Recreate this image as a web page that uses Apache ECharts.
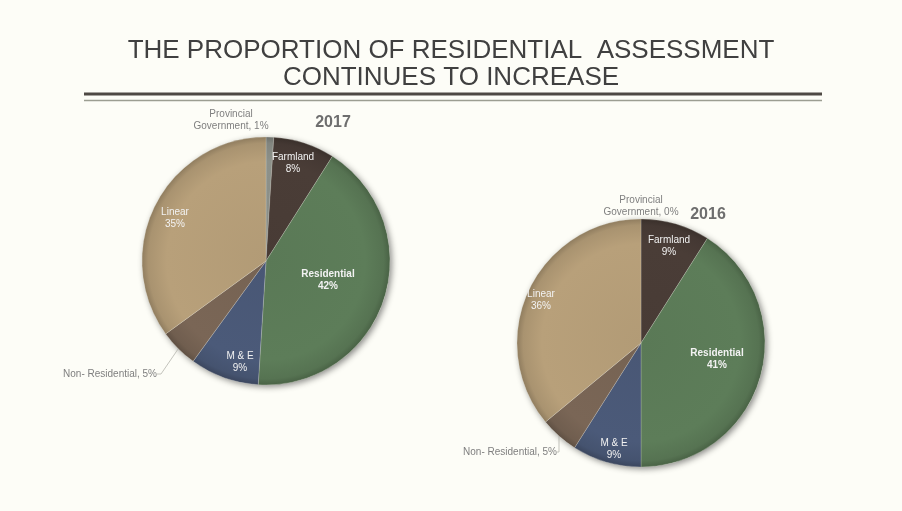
<!DOCTYPE html>
<html>
<head>
<meta charset="utf-8">
<script src="https://cdn.jsdelivr.net/npm/echarts@6/dist/echarts.min.js"></script>
<style>
  html, body { margin: 0; padding: 0; background: #fdfdf7; }
  #chart { width: 902px; height: 511px; }
</style>
</head>
<body>
<div id="chart"></div>
<script>
// Assessment categories, clockwise from 12 o'clock
const categories = ['Provincial Government', 'Farmland', 'Residential', 'M & E', 'Non- Residential', 'Linear'];
const values2017 = [1, 8, 42, 9, 5, 35];
const values2016 = [0, 9, 41, 9, 5, 36];
const years = ['2017', '2016'];

const sliceColors = ['#8d918a', '#4a3d37', '#5d7d59', '#4b5a79', '#7a6656', '#b8a07a'];

// Pie geometry and label anchor points
const pies = [
  { center: [266, 261], radius: 124, year: [328, 118],
    labels: [[231, 120, 'center'], [293, 163, 'center'], [328, 280, 'center'], [240, 362, 'center'], [157, 374, 'right'], [175, 218, 'center']] },
  { center: [641, 343], radius: 124, year: [703, 210],
    labels: [[641, 206, 'center'], [669, 246, 'center'], [717, 359, 'center'], [614, 449, 'center'], [557, 452, 'right'], [541, 300, 'center']] }
];

function shade(hex, f) {
  const n = parseInt(hex.slice(1), 16);
  const r = Math.round(((n >> 16) & 255) * f), g = Math.round(((n >> 8) & 255) * f), b = Math.round((n & 255) * f);
  return 'rgb(' + r + ',' + g + ',' + b + ')';
}

function sliceStyle(i, p) {
  return {
    color: {
      type: 'radial', x: p.center[0], y: p.center[1], r: p.radius, global: true,
      colorStops: [
        { offset: 0, color: shade(sliceColors[i], 0.97) },
        { offset: 0.8, color: sliceColors[i] },
        { offset: 0.95, color: shade(sliceColors[i], 0.92) },
        { offset: 1, color: shade(sliceColors[i], 0.78) }
      ]
    },
    borderColor: 'rgba(230,230,220,0.35)',
    borderWidth: 0.6
  };
}

const outsideLabel = { color: '#7f7f7f', fontSize: 10, fontFamily: 'Liberation Sans, Arial, sans-serif', lineHeight: 12 };
const insideLabel = { color: '#f2f2f2', fontSize: 10, fontFamily: 'Liberation Sans, Arial, sans-serif', lineHeight: 12 };

function buildData(values, p) {
  return categories.map((name, i) => {
    const item = { name: name, value: values[i], itemStyle: sliceStyle(i, p) };
    if (i === 0) {
      item.label = Object.assign({ position: 'outside', formatter: 'Provincial\nGovernment, {c}%' }, outsideLabel);
      item.labelLine = { show: false };
    } else if (i === 4) {
      item.label = Object.assign({ position: 'outside', formatter: '{b}, {c}%' }, outsideLabel);
      item.labelLine = { show: true, length: 10, length2: 4, lineStyle: { color: '#b5b5ad', width: 0.8 } };
    } else {
      item.label = Object.assign({ position: 'inside', formatter: '{b}\n{c}%' }, insideLabel);
      item.labelLine = { show: false };
      if (i === 2) item.label.fontWeight = 'bold';
    }
    return item;
  });
}

const series = [];
const allValues = [values2017, values2016];
pies.forEach((p, k) => {
  // soft drop shadow beneath each pie
  series.push({
    type: 'pie', silent: true, z: 1, center: p.center, radius: p.radius,
    label: { show: false }, labelLine: { show: false },
    itemStyle: { color: '#fdfdf7', shadowBlur: 6, shadowColor: 'rgba(0,0,0,0.45)', shadowOffsetX: 2, shadowOffsetY: 2 },
    data: [{ value: 1, name: '' }]
  });
  series.push({
    type: 'pie', z: 2, center: p.center, radius: p.radius, startAngle: 90, clockwise: true,
    avoidLabelOverlap: false, minShowLabelAngle: 0, stillShowZeroSum: true,
    emphasis: { disabled: true },
    data: buildData(allValues[k], p),
    labelLayout: function (params) {
      const l = p.labels[params.dataIndex];
      return { x: l[0], y: l[1], align: l[2], verticalAlign: 'middle' };
    }
  });
});

const titles = [{
  text: 'THE PROPORTION OF RESIDENTIAL  ASSESSMENT\nCONTINUES TO INCREASE',
  left: 'center', top: 32,
  textStyle: { color: '#404040', fontSize: 26, fontWeight: 'normal', lineHeight: 27, fontFamily: 'Liberation Sans, Arial, sans-serif' }
}];
pies.forEach((p, k) => {
  titles.push({
    text: years[k], left: p.year[0], top: p.year[1], textAlign: 'center', textVerticalAlign: 'middle',
    textStyle: { color: '#6e6e6e', fontSize: 16, fontWeight: 'bold', fontFamily: 'Liberation Sans, Arial, sans-serif' }
  });
});

const chart = echarts.init(document.getElementById('chart'), null, { renderer: 'canvas' });
chart.setOption({
  backgroundColor: '#fdfdf7',
  animation: false,
  title: titles,
  graphic: [
    { type: 'line', shape: { x1: 84, y1: 94, x2: 822, y2: 94 }, style: { stroke: '#4e4944', lineWidth: 3 } },
    { type: 'line', shape: { x1: 84, y1: 100.5, x2: 822, y2: 100.5 }, style: { stroke: '#9c9e92', lineWidth: 1.5 } }
  ],
  series: series
});
</script>
</body>
</html>
